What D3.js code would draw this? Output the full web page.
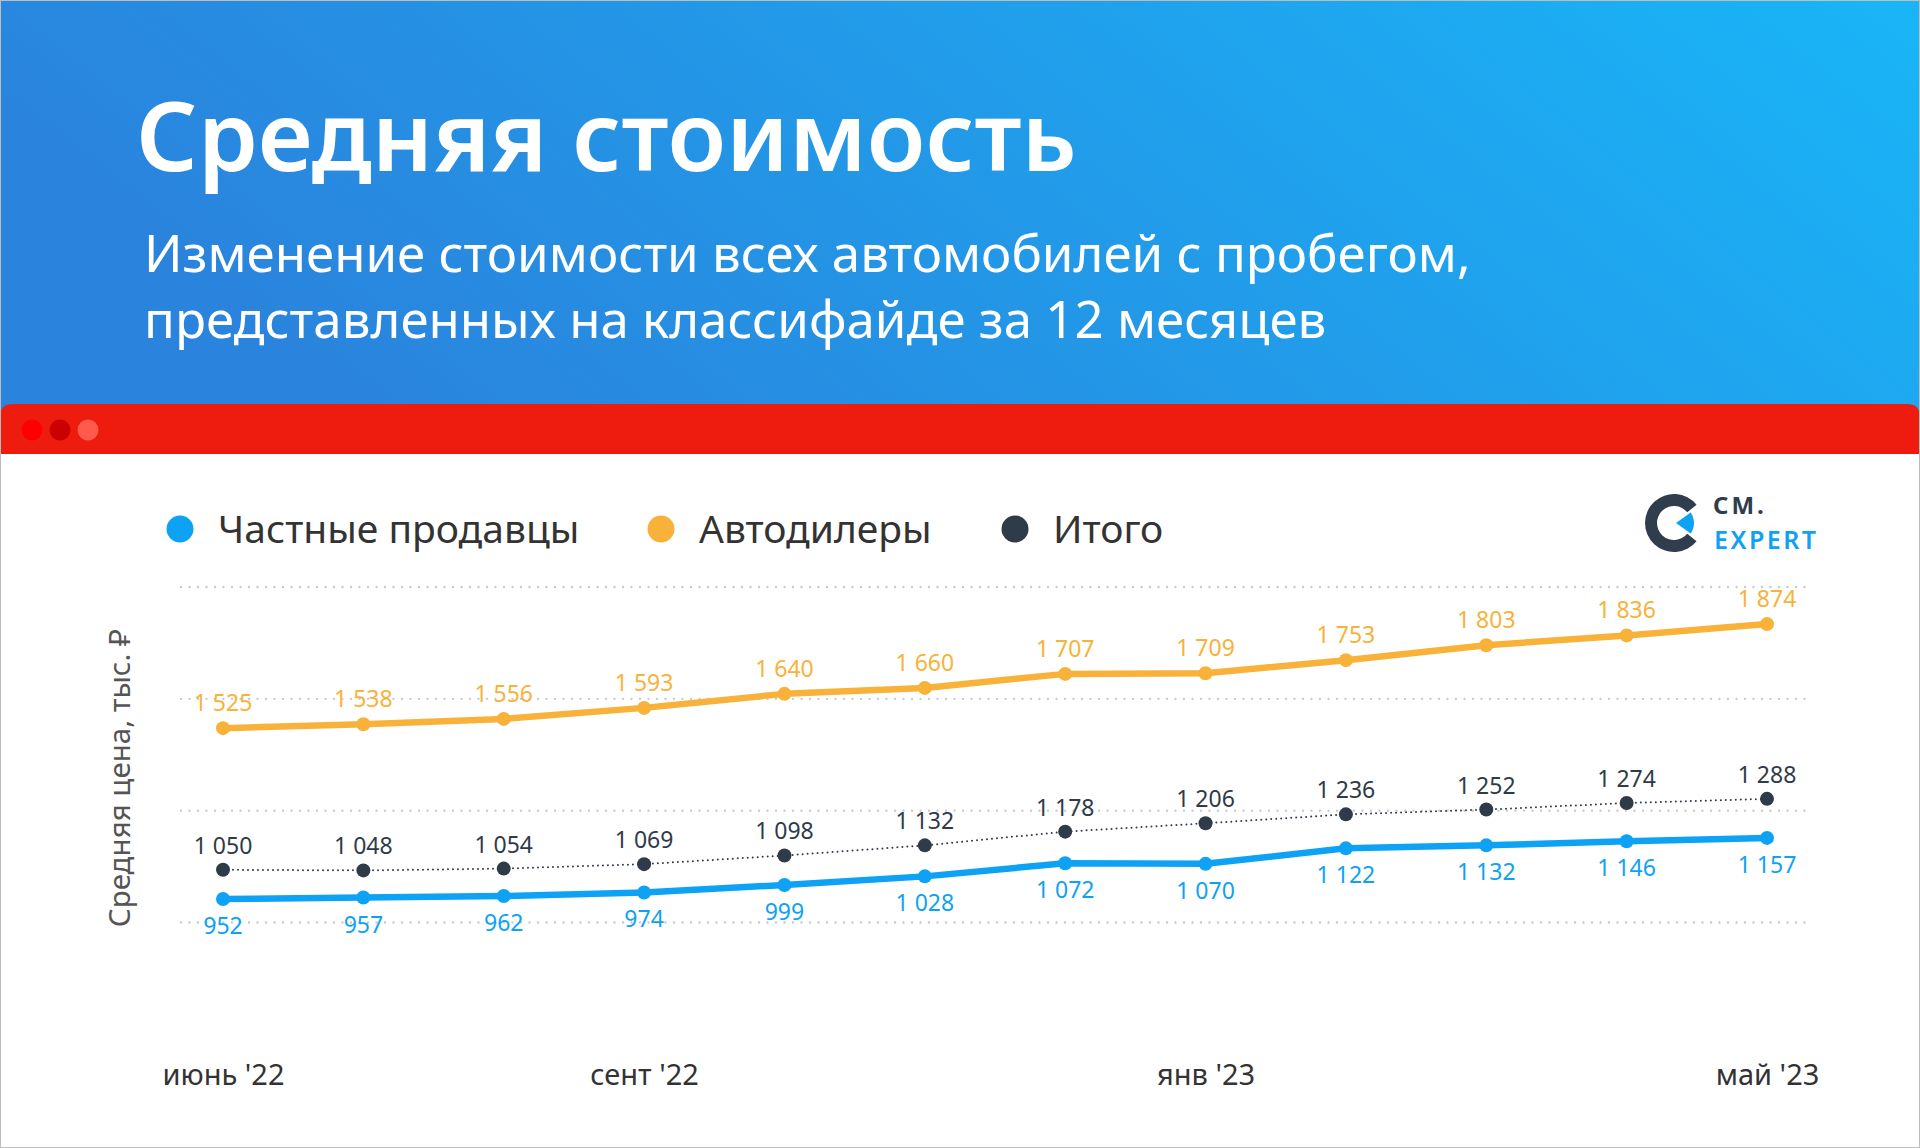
<!DOCTYPE html>
<html>
<head>
<meta charset="utf-8">
<script src="https://cdn.jsdelivr.net/npm/d3@7"></script>
<style>
  html, body { margin: 0; padding: 0; background: #fff; }
  svg { display: block; font-family: "Noto Sans", "Open Sans", sans-serif; }
</style>
</head>
<body>
<div id="chart"></div>
<script>
// Data
var months = ["июнь '22", "июль '22", "авг '22", "сент '22", "окт '22", "нояб '22",
              "дек '22", "янв '23", "февр '23", "март '23", "апр '23", "май '23"];
var tickMonths = ["июнь '22", "сент '22", "янв '23", "май '23"];
var privateSellers = [952, 957, 962, 974, 999, 1028, 1072, 1070, 1122, 1132, 1146, 1157];
var dealers = [1525, 1538, 1556, 1593, 1640, 1660, 1707, 1709, 1753, 1803, 1836, 1874];
var total = [1050, 1048, 1054, 1069, 1098, 1132, 1178, 1206, 1236, 1252, 1274, 1288];
var gridValues = [875, 1250, 1625, 2000];
var seriesNames = ["Частные продавцы", "Автодилеры", "Итого"];

var W = 1920, H = 1148;
var colors = {priv: "#0ea2f4", deal: "#f8b23a", total: "#2f3b49"};

var svg = d3.select("#chart").append("svg")
    .attr("width", W)
    .attr("height", H);

// Header gradient
var defs = svg.append("defs");
var grad = defs.append("linearGradient")
    .attr("id", "hdr")
    .attr("x1", "0").attr("y1", "0.3")
    .attr("x2", "1").attr("y2", "0");
grad.append("stop").attr("offset", "0").attr("stop-color", "#2a83dc");
grad.append("stop").attr("offset", "1").attr("stop-color", "#19b5f7");

svg.append("rect").attr("width", W).attr("height", 460).attr("fill", "url(#hdr)");

svg.append("text")
    .attr("x", 136).attr("y", 171)
    .attr("fill", "#fff")
    .attr("font-size", 96)
    .attr("font-weight", 600)
    .text("Средняя стоимость");

svg.append("text")
    .attr("x", 144).attr("y", 272)
    .attr("fill", "#fff")
    .attr("font-size", 51)
    .text("Изменение стоимости всех автомобилей с пробегом,");
svg.append("text")
    .attr("x", 144).attr("y", 338)
    .attr("fill", "#fff")
    .attr("font-size", 51)
    .text("представленных на классифайде за 12 месяцев");

// Window bar
svg.append("path")
    .attr("d", "M0,454 L0,417 Q0,404 13,404 L1907,404 Q1920,404 1920,417 L1920,454 Z")
    .attr("fill", "#ee1c0f");
svg.append("rect").attr("x", 0).attr("y", 454).attr("width", W).attr("height", H - 454).attr("fill", "#fff");

svg.selectAll(".wdot")
    .data(["#ff0000", "#cc0000", "#ff5a4c"])
    .enter().append("circle")
    .attr("cx", function (d, i) { return 32 + i * 28; })
    .attr("cy", 430)
    .attr("r", 10.5)
    .attr("fill", function (d) { return d; });

// Outer border
svg.append("rect")
    .attr("x", 0.5).attr("y", 0.5)
    .attr("width", W - 1).attr("height", H - 1)
    .attr("fill", "none")
    .attr("stroke", "#bdbdbd");

// Legend
var legendX = [180, 661, 1015];
var legendColors = [colors.priv, colors.deal, colors.total];
var legend = svg.selectAll(".legend")
    .data(seriesNames)
    .enter().append("g")
    .attr("transform", function (d, i) { return "translate(" + legendX[i] + ",529)"; });
legend.append("circle").attr("r", 13.5).attr("fill", function (d, i) { return legendColors[i]; });
legend.append("text")
    .attr("x", 38).attr("y", 14)
    .attr("font-size", 39)
    .attr("fill", "#333")
    .text(function (d) { return d; });

// Logo
var logo = svg.append("g").attr("transform", "translate(1674,523)");
logo.append("path")
    .attr("d", d3.arc().innerRadius(17).outerRadius(29)
        .startAngle(Math.PI / 2 + 0.68).endAngle(Math.PI * 2.5 - 0.68)())
    .attr("fill", "#2f3d4d");
logo.append("path")
    .attr("transform", "translate(2,0)")
    .attr("d", d3.arc().innerRadius(0).outerRadius(18)
        .startAngle(Math.PI / 2 - 0.62).endAngle(Math.PI / 2 + 0.62)())
    .attr("fill", colors.priv);
logo.append("text")
    .attr("x", 39).attr("y", -9)
    .attr("font-size", 24).attr("font-weight", 700)
    .attr("letter-spacing", 3)
    .attr("fill", "#2f3d4d")
    .text("СМ.");
logo.append("text")
    .attr("x", 40).attr("y", 26)
    .attr("font-size", 25).attr("font-weight", 600)
    .attr("letter-spacing", 2.5)
    .attr("fill", colors.priv)
    .text("EXPERT");

// Scales
var x = d3.scalePoint().domain(months).range([223, 1767]);
var y = d3.scaleLinear().domain([875, 2000]).range([922, 586.5]);

var fmt = function (v) { return d3.format(",")(v).replace(/,/g, " "); };

// Grid
svg.append("g")
    .attr("class", "grid")
    .call(d3.axisLeft(y).tickValues(gridValues).tickSize(-(1812 - 181)).tickFormat(""))
    .attr("transform", "translate(181,0)")
    .call(function (g) { g.select(".domain").remove(); })
    .selectAll("line")
    .attr("stroke", "#c9c9c9")
    .attr("stroke-width", 2.4)
    .attr("stroke-linecap", "round")
    .attr("stroke-dasharray", "0 8.5");

// X axis
svg.append("g")
    .attr("transform", "translate(0,1059)")
    .call(d3.axisBottom(x).tickValues(tickMonths).tickSize(0).tickPadding(0))
    .call(function (g) { g.select(".domain").remove(); })
    .selectAll("text")
    .attr("font-family", "Noto Sans, sans-serif")
    .attr("font-size", 29)
    .attr("fill", "#333")
    .attr("dy", "0.9em");

// Y axis title
svg.append("text")
    .attr("transform", "translate(130,778) rotate(-90)")
    .attr("text-anchor", "middle")
    .attr("font-size", 29.5)
    .attr("fill", "#555")
    .text("Средняя цена, тыс. ₽");

// Series
var line = d3.line()
    .x(function (d, i) { return x(months[i]); })
    .y(function (d) { return y(d); });

function drawSeries(values, color, opts) {
    var g = svg.append("g");
    g.append("path")
        .datum(values)
        .attr("d", line)
        .attr("fill", "none")
        .attr("stroke", color)
        .attr("stroke-width", opts.width)
        .attr("stroke-dasharray", opts.dash || null)
        .attr("stroke-linecap", opts.dash ? "round" : "butt")
        .attr("stroke-linejoin", "round");
    g.selectAll("circle")
        .data(values)
        .enter().append("circle")
        .attr("cx", function (d, i) { return x(months[i]); })
        .attr("cy", function (d) { return y(d); })
        .attr("r", opts.r)
        .attr("fill", color);
    g.selectAll("text")
        .data(values)
        .enter().append("text")
        .attr("x", function (d, i) { return x(months[i]); })
        .attr("y", function (d) { return y(d) + opts.dy; })
        .attr("text-anchor", "middle")
        .attr("font-size", 23)
        .attr("fill", color)
        .text(fmt);
}

drawSeries(total, colors.total, {width: 2, dash: "0 5", r: 7, dy: -16});
drawSeries(dealers, colors.deal, {width: 6.5, r: 7, dy: -17});
drawSeries(privateSellers, colors.priv, {width: 6.5, r: 7, dy: 35});
</script>
</body>
</html>
